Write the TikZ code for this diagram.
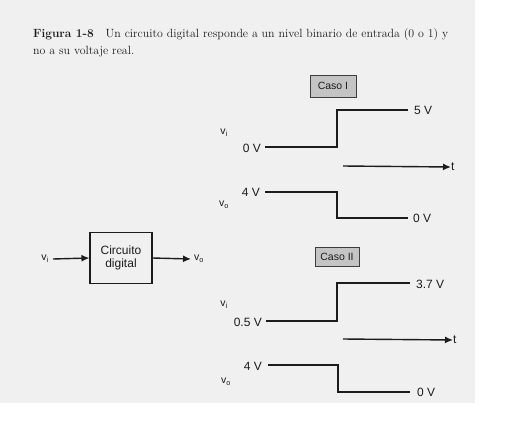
\documentclass[tikz,border=0pt]{standalone}
\usepackage{fontspec}
\setsansfont{Liberation Sans}
\usetikzlibrary{arrows.meta}
\definecolor{pagegray}{HTML}{F0F0F0}
\definecolor{casegray}{HTML}{C4C4C4}
\definecolor{ink}{HTML}{1C1C1C}
\tikzset{
  lbl/.style={font=\sffamily\fontsize{12}{13}\selectfont, text=ink, inner sep=0pt},
  sig/.style={font=\sffamily\fontsize{10.5}{11}\selectfont, text=ink, inner sep=0pt},
  casebox/.style={draw=ink!85, fill=casegray, line width=.9pt, minimum width=46pt, minimum height=22pt, font=\sffamily\fontsize{10.5}{11}\selectfont, text=ink},
  wave/.style={draw=ink, line width=1.7pt},
  taxis/.style={draw=ink, line width=1.4pt, -{Latex[length=8pt,width=7pt]}}
}
\begin{document}
\begin{tikzpicture}[x=1pt,y=-1pt]
  \useasboundingbox (0,0) rectangle (523,440);
  \fill[white] (0,0) rectangle (523,440);
  \fill[pagegray] (0,0) rectangle (475,403);
  % caption
  \node[anchor=base west, inner sep=0pt, font=\fontsize{11.9}{17}\selectfont, text=ink, align=left] (caption) at (33,54)
    {\textbf{Figura 1-8}\quad Un circuito digital responde a un nivel binario de entrada (0 o 1) y\\no a su voltaje real.};
  % block diagram
  \node[draw=ink, line width=1.1pt, minimum width=62pt, minimum height=51pt, lbl, align=center] (circ) at (121,258) {Circuito\\digital};
  \node[sig, anchor=east] (vin) at (49,259) {v\textsubscript{i}};
  \node[sig, anchor=west] (vout) at (194,259) {v\textsubscript{o}};
  \draw[taxis] (vin.east) ++(4,0) -- (circ.west);
  \draw[taxis] (circ.east) -- ([xshift=-3pt]vout.west);
  % case I
  \node[casebox] (caso1) at (333,86) {Caso I};
  \draw[wave] (265,147) coordinate (a1) -- (337,147) -- (337,110) -- (408,110) coordinate (b1);
  \node[lbl, anchor=east] (lo1) at (261,148) {0 V};
  \node[lbl, anchor=west] (hi1) at (414,110) {5 V};
  \node[sig] (vi1) at (224,133) {v\textsubscript{i}};
  \coordinate (t1s) at (343,166);
  \node[lbl, anchor=west] (t1) at (451,167) {t};
  \draw[taxis] (t1s) -- (t1.west);
  \draw[wave] (265,192) coordinate (c1) -- (337,192) -- (337,218) -- (408,218) coordinate (d1);
  \node[lbl, anchor=east] (hi2) at (260,192) {4 V};
  \node[lbl, anchor=west] (lo2) at (413,218) {0 V};
  \node[sig] (vo1) at (224,205) {v\textsubscript{o}};
  % case II
  \node[casebox, minimum width=44pt, minimum height=19pt] (caso2) at (337,257) {Caso II};
  \draw[wave] (266,321) coordinate (a2) -- (337,321) -- (337,283) -- (410,283) coordinate (b2);
  \node[lbl, anchor=east] (lo3) at (262,322) {0.5 V};
  \node[lbl, anchor=west] (hi3) at (416,284) {3.7 V};
  \node[sig] (vi2) at (224,305) {v\textsubscript{i}};
  \coordinate (t2s) at (343,339);
  \node[lbl, anchor=west] (t2) at (453,340) {t};
  \draw[taxis] (t2s) -- (t2.west);
  \draw[wave] (268,365) coordinate (c2) -- (338,365) -- (338,392) -- (410,392) coordinate (d2);
  \node[lbl, anchor=east] (hi4) at (262,366) {4 V};
  \node[lbl, anchor=west] (lo4) at (417,392) {0 V};
  \node[sig] (vo2) at (226,382) {v\textsubscript{o}};
\end{tikzpicture}
\end{document}
